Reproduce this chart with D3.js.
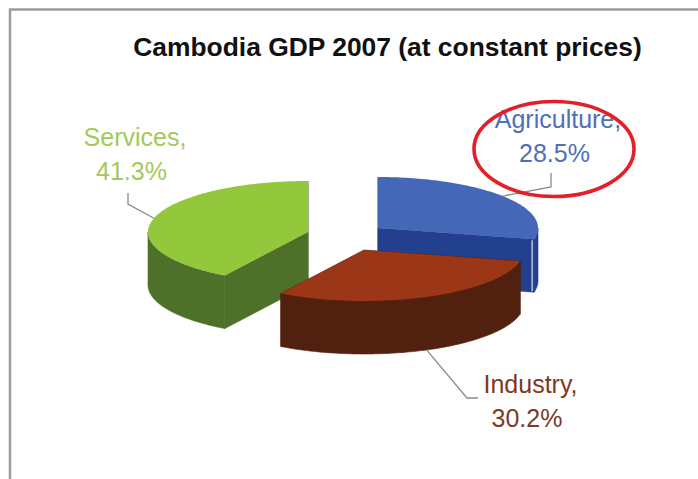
<!DOCTYPE html>
<html>
<head>
<meta charset="utf-8">
<title>Cambodia GDP 2007</title>
<script src="https://cdn.jsdelivr.net/npm/d3@7/dist/d3.min.js"></script>
<style>
  html, body { margin: 0; padding: 0; background: #fff; }
  svg { display: block; }
  text { font-family: "Liberation Sans", Arial, sans-serif; }
</style>
</head>
<body>
<svg id="chart" width="698" height="479"></svg>
<script>
// GDP shares by sector
const sectors = ["Agriculture", "Services", "Industry"];
const shares = [28.5, 41.3, 30.2];
const chartTitle = "Cambodia GDP 2007 (at constant prices)";

// Clockwise order of the wedges around the pie
const pieOrder = ["Agriculture", "Industry", "Services"];

// Wedge colours: top surface, side wall, label text
const topColors = ["#4567b7", "#93c83c", "#9b3617"];
const sideColors = ["#23408f", "#4e7029", "#52200e"];
const labelColors = ["#4f6fb8", "#a3c95a", "#7d3a22"];

// Exploded wedge pivots and label placement
const pivots = [[378, 228], [308, 232], [364, 250]];
const labelAnchors = [[554.5, 128], [131.5, 146], [527, 393]];
const leaderElbows = [[[551, 187], [551, 173]], [[128, 204], [128, 193]], [[467, 398], [478, 398]]];

const RX = 160, RY = 51, DEPTH = 53;

const svg = d3.select("#chart");

// Outer frame: only the top and left rules fall inside the view
svg.append("path")
  .attr("d", "M10,479V9.5H698")
  .attr("fill", "none")
  .attr("stroke", "#9c9c9c")
  .attr("stroke-width", 2.5);

svg.append("text")
  .attr("x", 387.5).attr("y", 55.5)
  .attr("text-anchor", "middle")
  .attr("font-size", 26.4)
  .attr("font-weight", "bold")
  .attr("fill", "#111")
  .text(chartTitle);

const shareBy = new Map(sectors.map((s, i) => [s, shares[i]]));
const arcs = d3.pie().sort(null).value(d => shareBy.get(d))(pieOrder);
const arcBy = new Map(arcs.map(a => [a.data, a]));

// Tilted-disc projection: angle is clockwise from twelve o'clock
const project = (i, angle, radius = 1, drop = 0) => [
  pivots[i][0] + Math.sin(angle) * RX * radius,
  pivots[i][1] - Math.cos(angle) * RY * radius + drop
];

const line = d3.line();
const sampleAngles = (a0, a1) => {
  const n = Math.max(2, Math.ceil((a1 - a0) / 0.02));
  return d3.range(n + 1).map(k => a0 + (a1 - a0) * k / n);
};

// Back-to-front paint order
const paintOrder = ["Agriculture", "Services", "Industry"];
const HALF = Math.PI / 2;

paintOrder.forEach(name => {
  const i = sectors.indexOf(name);
  const a = arcBy.get(name);
  const g = svg.append("g").attr("class", "wedge");

  // Cut faces along both radial edges
  [a.startAngle, a.endAngle].forEach(angle => {
    const c = project(i, angle, 0), e = project(i, angle);
    g.append("path")
      .attr("d", line([c, e, [e[0], e[1] + DEPTH], [c[0], c[1] + DEPTH]]) + "Z")
      .attr("fill", sideColors[i])
      .attr("stroke", sideColors[i])
      .attr("stroke-width", 0.6);
  });

  // Outer wall on the camera-facing half of the rim
  const w0 = Math.max(a.startAngle, HALF), w1 = Math.min(a.endAngle, 3 * HALF);
  if (w1 > w0) {
    const rim = sampleAngles(w0, w1);
    const pts = rim.map(t => project(i, t)).concat(rim.slice().reverse().map(t => project(i, t, 1, DEPTH)));
    g.append("path").attr("d", line(pts) + "Z")
      .attr("fill", sideColors[i])
      .attr("stroke", sideColors[i])
      .attr("stroke-width", 0.6);
  }

  // Top surface
  const top = [project(i, a.startAngle, 0)].concat(sampleAngles(a.startAngle, a.endAngle).map(t => project(i, t)));
  g.append("path").attr("d", line(top) + "Z").attr("fill", topColors[i]);

  // Pale highlight where the blue wedge's cut face meets its rim
  if (a.startAngle === 0) {
    const e = project(i, a.endAngle);
    g.append("line")
      .attr("x1", e[0] - 2).attr("y1", e[1] + 1)
      .attr("x2", e[0] - 2).attr("y2", e[1] + DEPTH - 1)
      .attr("stroke", "#c3cfea").attr("stroke-width", 1.4);
  }

  // Leader line from the rim midpoint to the label
  const mid = (a.startAngle + a.endAngle) / 2;
  const front = Math.cos(mid) < 0 ? DEPTH : 0;
  svg.append("path")
    .attr("d", line([project(i, mid, 1, front), ...leaderElbows[i]]))
    .attr("fill", "none").attr("stroke", "#8a8a8a").attr("stroke-width", 1.3);

  // Two-line data label; the name line sits slightly right to balance its comma
  const [lx, ly] = labelAnchors[i];
  const label = svg.append("text")
    .attr("text-anchor", "middle")
    .attr("font-size", 25)
    .attr("fill", labelColors[i]);
  label.append("tspan").attr("x", lx + 3.5).attr("y", ly).text(name + ",");
  label.append("tspan").attr("x", lx).attr("y", ly + 34).text(shares[i].toFixed(1) + "%");
});

// Red hand-drawn style ring around the agriculture label
svg.append("ellipse")
  .attr("cx", 554).attr("cy", 149)
  .attr("rx", 80).attr("ry", 47.5)
  .attr("fill", "none")
  .attr("stroke", "#e3202a")
  .attr("stroke-width", 3.6);
</script>
</body>
</html>
